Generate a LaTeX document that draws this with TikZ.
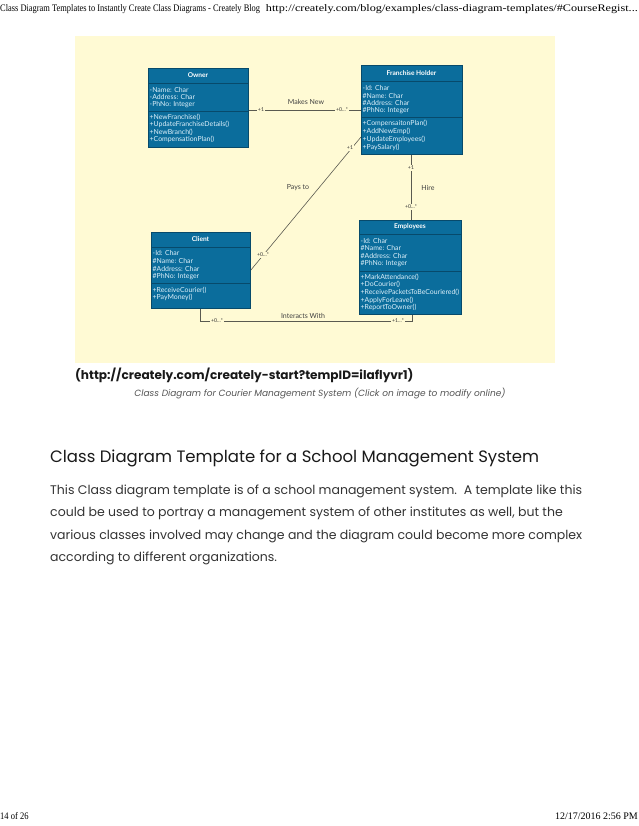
\documentclass[tikz,border=0pt]{standalone}
\usepackage{fontspec}
\setmainfont{Lato}
\newfontfamily\timesf{Liberation Serif}
\newfontfamily\pagef{Poppins}
\usetikzlibrary{calc}
\definecolor{panel}{HTML}{FFFAD4}
\definecolor{cls}{HTML}{0B6D9C}
\definecolor{clsborder}{HTML}{074A6B}
\definecolor{clstext}{HTML}{DDF0FA}
\definecolor{lnk}{HTML}{5A5A50}
\definecolor{bodytext}{HTML}{333333}
\definecolor{captext}{HTML}{555555}
\tikzset{
  classbox/.style={draw=clsborder, fill=cls, line width=0.9pt, inner sep=0pt, anchor=north west},
  sepline/.style={draw=clsborder, line width=0.8pt},
  ctitle/.style={font=\fontsize{6.6}{7}\selectfont\bfseries, text=white, inner sep=0pt},
  ctext/.style={font=\fontsize{6.9}{7}\selectfont, text=clstext, anchor=west, inner sep=0pt},
  assoc/.style={draw=lnk, line width=0.6pt},
  mult/.style={font=\fontsize{5.2}{5}\selectfont, text=black!80, fill=panel, inner sep=1.2pt},
  alabel/.style={font=\fontsize{7}{7}\selectfont, text=black!75, inner sep=0pt},
  hdr/.style={font=\timesf\fontsize{10}{11}\selectfont, inner sep=0pt, text=black},
  bodyline/.style={anchor=west, inner sep=0pt, font=\pagef\fontsize{12.5}{13}\selectfont, text=bodytext},
}
\begin{document}
\begin{tikzpicture}[x=1pt,y=-1pt]
\useasboundingbox[fill=white] (0,0) rectangle (638,826);

% page header / footer
\node[hdr, anchor=west] (hl) at (0,9) {\scalebox{0.842}[1]{Class Diagram Templates to Instantly Create Class Diagrams - Creately Blog}};
\node[hdr, anchor=east] (hr) at (638,9) {\scalebox{1.22}[1]{http://creately.com/blog/examples/class-diagram-templates/\#CourseRegist...}};
\node[hdr, anchor=west] (fl) at (0,816) {\scalebox{0.85}[1]{14 of 26}};
\node[hdr, anchor=east] (fr) at (638,816) {\scalebox{1.0}[1]{12/17/2016 2:56 PM}};

% diagram panel
\fill[panel] (75,36) rectangle (555,363);

% Owner
\node[classbox, minimum width=100pt, minimum height=79pt] (owner) at (148,68) {};
\draw[sepline] (148,83) -- (248,83);
\draw[sepline] (148,111) -- (248,111);
\node[ctitle] (ownert) at (198,75.5) {Owner};
\node[ctext] (o1) at (149.5,89.5) {-Name: Char};
\node[ctext] (o2) at (149.5,97) {-Address: Char};
\node[ctext] (o3) at (149.5,104.5) {-PhNo: Integer};
\node[ctext] (o4) at (149.5,117) {+NewFranchise()};
\node[ctext] (o5) at (149.5,124.5) {+UpdateFranchiseDetails()};
\node[ctext] (o6) at (149.5,132) {+NewBranch()};
\node[ctext] (o7) at (149.5,139.5) {+CompensationPlan()};

% Franchise Holder
\node[classbox, minimum width=101pt, minimum height=89pt] (fh) at (361,65) {};
\draw[sepline] (361,81) -- (462,81);
\draw[sepline] (361,117) -- (462,117);
\node[ctitle] (fht) at (411.5,73) {Franchise Holder};
\node[ctext] (f1) at (362.5,88) {-Id: Char};
\node[ctext] (f2) at (362.5,95.7) {\#Name: Char};
\node[ctext] (f3) at (362.5,103.4) {\#Address: Char};
\node[ctext] (f4) at (362.5,111) {\#PhNo: Integer};
\node[ctext] (f5) at (362.5,123) {+CompensaitonPlan()};
\node[ctext] (f6) at (362.5,131) {+AddNewEmp()};
\node[ctext] (f7) at (362.5,139) {+UpdateEmployees()};
\node[ctext] (f8) at (362.5,147) {+PaySalary()};

% Client
\node[classbox, minimum width=99pt, minimum height=76pt] (client) at (151,232) {};
\draw[sepline] (151,247) -- (250,247);
\draw[sepline] (151,283) -- (250,283);
\node[ctitle] (clt) at (200.5,239.5) {Client};
\node[ctext] (c1) at (152.5,253) {-Id: Char};
\node[ctext] (c2) at (152.5,261) {\#Name: Char};
\node[ctext] (c3) at (152.5,269) {\#Address: Char};
\node[ctext] (c4) at (152.5,277) {\#PhNo: Integer};
\node[ctext] (c5) at (152.5,290) {+ReceiveCourier()};
\node[ctext] (c6) at (152.5,297.5) {+PayMoney()};

% Employees
\node[classbox, minimum width=102pt, minimum height=94pt] (emp) at (359,220) {};
\draw[sepline] (359,234) -- (461,234);
\draw[sepline] (359,271) -- (461,271);
\node[ctitle] (empt) at (410,227) {Employees};
\node[ctext] (e1) at (360.5,240.5) {-Id: Char};
\node[ctext] (e2) at (360.5,248.3) {\#Name: Char};
\node[ctext] (e3) at (360.5,256.1) {\#Address: Char};
\node[ctext] (e4) at (360.5,264) {\#PhNo: Integer};
\node[ctext] (e5) at (360.5,277) {+MarkAttendance()};
\node[ctext] (e6) at (360.5,284.7) {+DoCourier()};
\node[ctext] (e7) at (360.5,292.4) {+ReceivePacketsToBeCouriered()};
\node[ctext] (e8) at (360.5,300.1) {+ApplyForLeave()};
\node[ctext] (e9) at (360.5,307.8) {+ReportToOwner()};

% connection points
\coordinate (ownerR) at (owner.east |- 0,110);
\coordinate (fhL) at (fh.west |- 0,110);
\coordinate (fhLL) at (fh.west |- 0,137);
\coordinate (clR) at (client.east |- 0,270);
\coordinate (fhB) at (fh.south -| 411,0);
\coordinate (empT) at (emp.north -| 411,0);
\coordinate (clB) at (client.south -| 200,0);
\coordinate (empB) at (emp.south -| 412,0);
\coordinate (c1corner) at (200,321);
\coordinate (c2corner) at (412,321);

% Makes New
\draw[assoc] (ownerR) -- (fhL);
\node[mult] (m1) at (261,110) {+1};
\node[mult] (m2) at (342,110) {+0...*};
\node[alabel] (mk) at (306,102) {Makes New};

% Pays to
\draw[assoc] (fhLL) -- (clR);
\node[mult] (p1) at (350,147.5) {+1};
\node[mult] (p2) at (263,255) {+0...*};
\node[alabel] (pt) at (298,188) {Pays to};

% Hire
\draw[assoc] (fhB) -- (empT);
\node[mult] (h1) at (411,168) {+1};
\node[mult] (h2) at (411,207) {+0...*};
\node[alabel] (hi) at (428,188) {Hire};

% Interacts With
\draw[assoc] (clB) -- (c1corner) -- (c2corner) -- (empB);
\node[mult] (i1) at (217,321) {+0...*};
\node[mult] (i2) at (398,321) {+1...*};
\node[alabel] (iw) at (303,315.5) {Interacts With};

% text below
\node[anchor=west, inner sep=0pt, font=\pagef\fontsize{12.1}{12}\selectfont\bfseries, text=black!90] (url) at (75,375.5) {(http://creately.com/creately-start?tempID=ilaflyvr1)};
\node[inner sep=0pt, font=\pagef\fontsize{9}{9}\selectfont\itshape, text=captext] (cap) at (320,394) {Class Diagram for Courier Management System (Click on image to modify online)};
\node[anchor=west, inner sep=0pt, font=\pagef\fontsize{16.5}{18}\selectfont, text=black!90] (head) at (50,458) {Class Diagram Template for a School Management System};
\node[bodyline] (b1) at (50,491) {This Class diagram template is of a school management system.\ \ A template like this};
\node[bodyline] (b2) at (50,513.5) {could be used to portray a management system of other institutes as well, but the};
\node[bodyline] (b3) at (50,536) {various classes involved may change and the diagram could become more complex};
\node[bodyline] (b4) at (50,558.5) {according to different organizations.};
\end{tikzpicture}
\end{document}
